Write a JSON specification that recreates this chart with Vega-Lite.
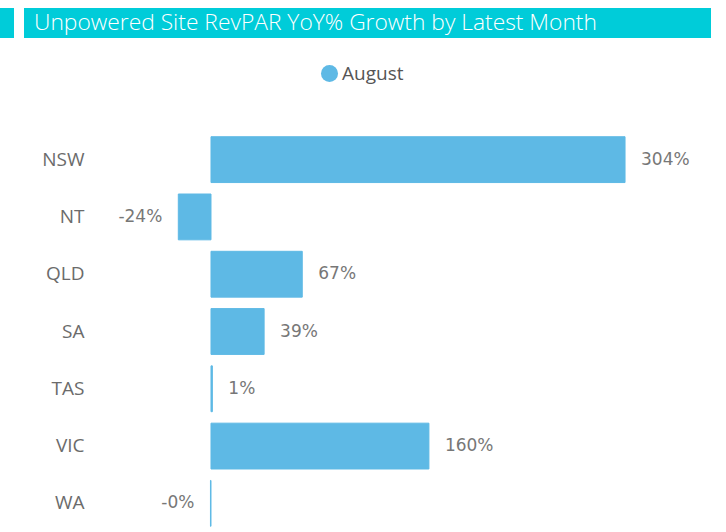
{
  "$schema": "https://vega.github.io/schema/vega-lite/v6.json",
  "padding": {"left": 0, "top": 8, "right": 0, "bottom": 0},
  "background": "white",
  "config": {"view": {"stroke": null}},
  "spacing": 93,
  "vconcat": [
    {
      "spacing": 10,
      "hconcat": [
        {
          "width": 14,
          "height": 30,
          "view": {"fill": "#00CCD9", "stroke": null},
          "data": {"values": [{"t": ""}]},
          "mark": {"type": "text"},
          "encoding": {"text": {"field": "t"}}
        },
        {
          "width": 687,
          "height": 30,
          "view": {"fill": "#00CCD9", "stroke": null},
          "data": {"values": [{"title": "Unpowered Site RevPAR YoY% Growth by Latest Month"}]},
          "mark": {"type": "text", "align": "left", "baseline": "middle", "dx": 10, "font": "Open Sans", "fontSize": 22.8, "fontWeight": 300, "color": "white"},
          "encoding": {
            "x": {"datum": 0, "type": "quantitative", "scale": {"domain": [0, 1]}, "axis": null},
            "text": {"field": "title"}
          }
        }
      ]
    },
    {
      "width": 701,
      "height": 401,
      "data": {
        "values": [
          {"state": "NSW", "growth": 3.04, "label": "304%", "month": "August"},
          {"state": "NT", "growth": -0.24, "label": "-24%", "month": "August"},
          {"state": "QLD", "growth": 0.67, "label": "67%", "month": "August"},
          {"state": "SA", "growth": 0.39, "label": "39%", "month": "August"},
          {"state": "TAS", "growth": 0.01, "label": "1%", "month": "August"},
          {"state": "VIC", "growth": 1.60, "label": "160%", "month": "August"},
          {"state": "WA", "growth": -0.004, "label": "-0%", "month": "August"}
        ]
      },
      "encoding": {
        "y": {
          "field": "state", "type": "nominal", "sort": null,
          "scale": {"paddingInner": 0.2, "paddingOuter": 0.1},
          "axis": {"title": null, "ticks": false, "domain": false, "labelPadding": -84, "minExtent": 0, "labelAlign": "right", "labelFontSize": 19, "labelColor": "#6B6B6B", "labelFont": "Open Sans"}
        },
        "x": {"field": "growth", "type": "quantitative", "scale": {"domain": [-1.5492, 3.5977], "nice": false, "zero": false}, "axis": null}
      },
      "layer": [
        {
          "mark": {"type": "bar", "stroke": "#5EB9E5", "strokeWidth": 1},
          "encoding": {
            "color": {
              "field": "month", "type": "nominal",
              "scale": {"range": ["#5EB9E5"]},
              "legend": {"title": null, "orient": "none", "legendX": 320, "legendY": 56, "symbolType": "circle", "symbolSize": 290, "symbolStrokeWidth": 0, "labelFontSize": 19, "labelFont": "Open Sans", "labelColor": "#555555", "labelOffset": 3, "symbolOpacity": 1}
            }
          }
        },
        {
          "transform": [{"filter": "datum.growth >= 0"}],
          "mark": {"type": "text", "align": "left", "baseline": "middle", "dx": 16, "font": "DejaVu Sans", "fontSize": 17, "color": "#777777"},
          "encoding": {"text": {"field": "label"}}
        },
        {
          "transform": [{"filter": "datum.growth < 0"}],
          "mark": {"type": "text", "align": "right", "baseline": "middle", "dx": -16, "font": "DejaVu Sans", "fontSize": 17, "color": "#777777"},
          "encoding": {"text": {"field": "label"}}
        }
      ]
    }
  ]
}
